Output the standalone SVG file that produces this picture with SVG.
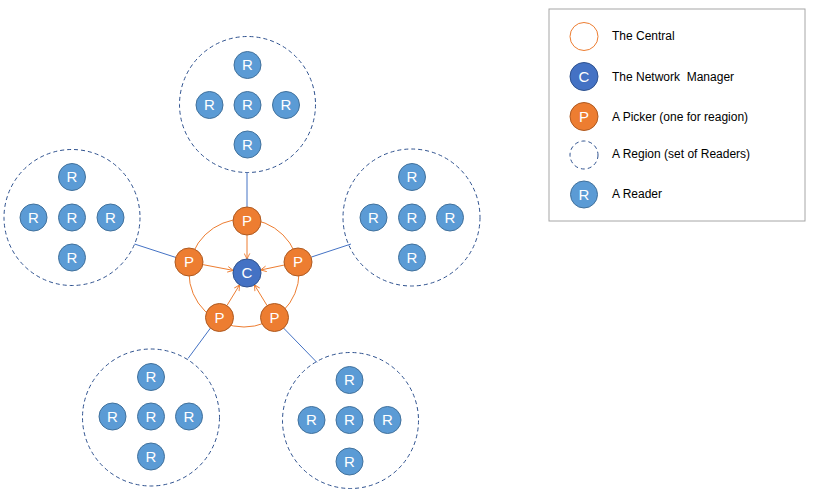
<svg xmlns="http://www.w3.org/2000/svg" width="817" height="496" viewBox="0 0 817 496">
<style>
.reg{fill:none;stroke:#2F528F;stroke-width:1;stroke-dasharray:4 3}
.r{fill:#5B9BD5;stroke:#41719C;stroke-width:1}
.p{fill:#ED7D31;stroke:#AE5A21;stroke-width:1}
.c{fill:#4472C4;stroke:#2F528F;stroke-width:1}
.lt{fill:#fff;font-family:"Liberation Sans",Arial,sans-serif;font-size:15px;text-anchor:middle}
.lg{fill:#000;font-family:"Liberation Sans",Arial,sans-serif;font-size:12px}
.link{stroke:#4472C4;stroke-width:1;fill:none}
.arr{stroke:#ED7D31;stroke-width:1;fill:none;marker-end:url(#ah)}
</style>
<defs>
<marker id="ah" viewBox="0 0 10 10" refX="9" refY="5" markerWidth="7" markerHeight="7" markerUnits="userSpaceOnUse" orient="auto">
<path d="M1,1 L9,5 L1,9" fill="none" stroke="#ED7D31" stroke-width="1.3"/>
</marker>
<g id="rd">
<circle class="r" r="13.5"/>
<text class="lt" y="5.3">R</text>
</g>
</defs>
<rect width="817" height="496" fill="#fff"/>

<g id="central">
<ellipse cx="244" cy="273" rx="55" ry="54" fill="none" stroke="#ED7D31" stroke-width="1"/>
</g>

<g id="connectors">
<line class="link" x1="247" y1="207" x2="247" y2="172.5"/>
<line class="link" x1="176" y1="257.5" x2="134.5" y2="244"/>
<line class="link" x1="311.5" y1="257" x2="351" y2="244"/>
<line class="link" x1="210.5" y1="328" x2="188" y2="358.5"/>
<line class="link" x1="283.5" y1="328" x2="317" y2="362.5"/>
<line class="arr" x1="247" y1="235" x2="247" y2="259"/>
<line class="arr" x1="202.8" y1="264.6" x2="233.2" y2="270.4"/>
<line class="arr" x1="284.3" y1="265" x2="260.7" y2="270"/>
<line class="arr" x1="226.9" y1="305.6" x2="239.6" y2="284.9"/>
<line class="arr" x1="267.1" y1="305.6" x2="254.4" y2="284.9"/>
</g>

<g id="manager">
<circle class="c" cx="247" cy="273" r="14"/>
<text class="lt" x="247" y="278.3">C</text>
</g>

<g id="picker-top"><circle class="p" cx="247" cy="221" r="14"/><text class="lt" x="247" y="226.3">P</text></g>
<g id="picker-left"><circle class="p" cx="189" cy="262" r="14"/><text class="lt" x="189" y="267.3">P</text></g>
<g id="picker-right"><circle class="p" cx="298" cy="262" r="14"/><text class="lt" x="298" y="267.3">P</text></g>
<g id="picker-bl"><circle class="p" cx="219.5" cy="317.5" r="14"/><text class="lt" x="219.5" y="322.8">P</text></g>
<g id="picker-br"><circle class="p" cx="274.5" cy="317.5" r="14"/><text class="lt" x="274.5" y="322.8">P</text></g>

<g id="region-top">
<circle class="reg" cx="247.5" cy="104.5" r="68"/>
<use href="#rd" x="247.5" y="65"/>
<use href="#rd" x="209.5" y="105"/>
<use href="#rd" x="247.5" y="105"/>
<use href="#rd" x="286" y="105"/>
<use href="#rd" x="247.5" y="144.5"/>
</g>

<g id="region-left">
<circle class="reg" cx="72" cy="217.5" r="68"/>
<use href="#rd" x="72" y="177"/>
<use href="#rd" x="33.5" y="217.5"/>
<use href="#rd" x="72" y="217.5"/>
<use href="#rd" x="110.5" y="217.5"/>
<use href="#rd" x="72" y="257.5"/>
</g>

<g id="region-right">
<circle class="reg" cx="411.5" cy="217.5" r="68.5"/>
<use href="#rd" x="412" y="177"/>
<use href="#rd" x="373.5" y="217.5"/>
<use href="#rd" x="412" y="217.5"/>
<use href="#rd" x="450" y="217.5"/>
<use href="#rd" x="412" y="257.5"/>
</g>

<g id="region-bl">
<circle class="reg" cx="151" cy="417.5" r="68.5"/>
<use href="#rd" x="151" y="377"/>
<use href="#rd" x="112.5" y="416.5"/>
<use href="#rd" x="151" y="416.5"/>
<use href="#rd" x="189" y="416.5"/>
<use href="#rd" x="151" y="456.5"/>
</g>

<g id="region-br">
<circle class="reg" cx="350.5" cy="420.5" r="68"/>
<use href="#rd" x="349.5" y="380"/>
<use href="#rd" x="311.5" y="420"/>
<use href="#rd" x="349.5" y="420"/>
<use href="#rd" x="387.5" y="420"/>
<use href="#rd" x="349.5" y="461.5"/>
</g>

<g id="legend">
<rect x="549" y="9" width="256" height="212" fill="#fff" stroke="#A6A6A6" stroke-width="1"/>
<circle cx="584" cy="36.5" r="14" fill="none" stroke="#ED7D31" stroke-width="1"/>
<text class="lg" x="612" y="40">The Central</text>
<circle class="c" cx="584" cy="76.5" r="14"/>
<text class="lt" x="584" y="81.8">C</text>
<text class="lg" x="612" y="81" xml:space="preserve">The Network  Manager</text>
<circle class="p" cx="584" cy="116.5" r="14"/>
<text class="lt" x="584" y="121.8">P</text>
<text class="lg" x="612" y="120.5">A Picker (one for reagion)</text>
<circle class="reg" cx="584" cy="155" r="14"/>
<text class="lg" x="612" y="158">A Region (set of Readers)</text>
<use href="#rd" x="584" y="194.5"/>
<text class="lg" x="612" y="198">A Reader</text>
</g>
</svg>
